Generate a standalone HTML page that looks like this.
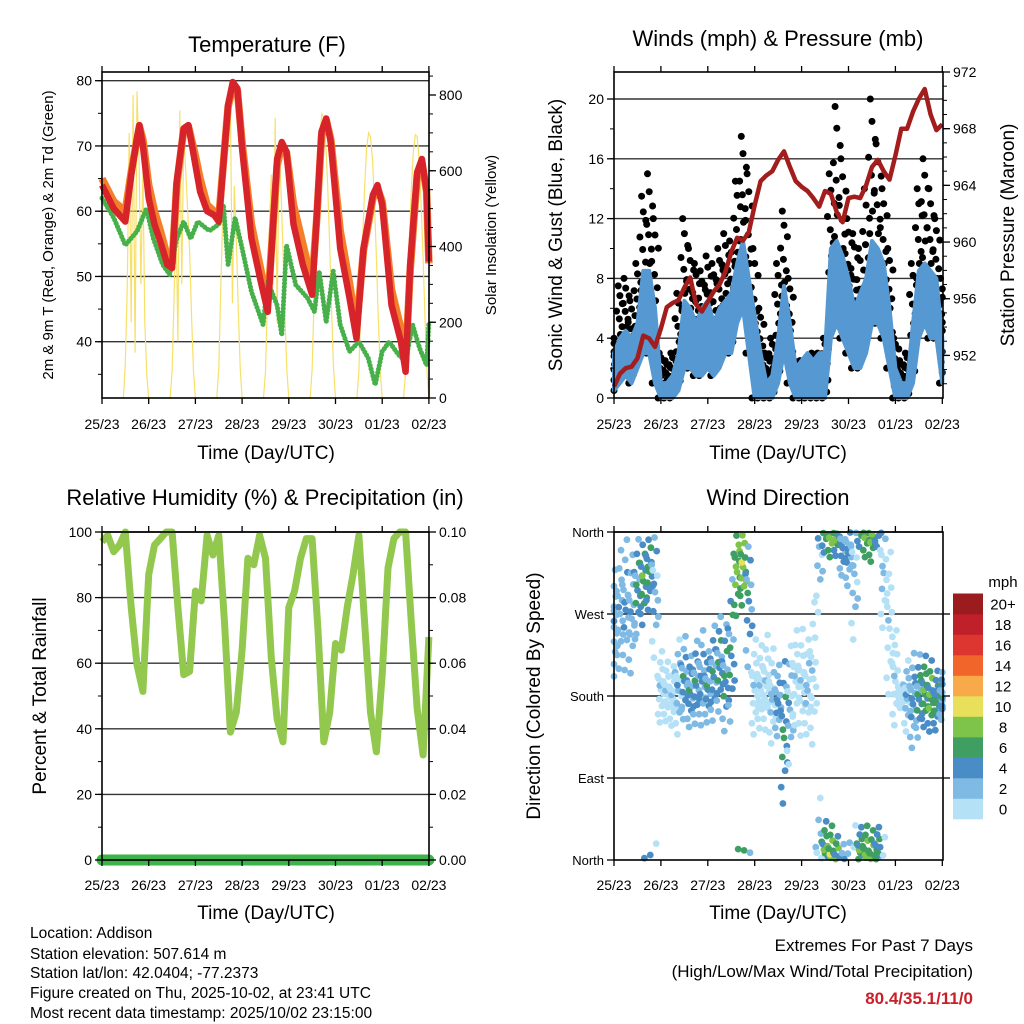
<!DOCTYPE html>
<html><head><meta charset="utf-8"><style>
html,body{margin:0;padding:0;background:#fff;}
svg{display:block;font-family:"Liberation Sans",sans-serif;}
</style></head><body>
<svg id="fig" width="1024" height="1024" viewBox="0 0 1024 1024" xmlns="http://www.w3.org/2000/svg">
<rect width="1024" height="1024" fill="#fff"/>
<g id="layer"></g>
<text x="267" y="52" font-size="22" text-anchor="middle">Temperature (F)</text>
<text x="778" y="46" font-size="22" text-anchor="middle">Winds (mph) &amp; Pressure (mb)</text>
<text x="265" y="505" font-size="22" text-anchor="middle">Relative Humidity (%) &amp; Precipitation (in)</text>
<text x="778" y="505" font-size="22" text-anchor="middle">Wind Direction</text>
<text x="266" y="459" font-size="19" text-anchor="middle">Time (Day/UTC)</text>
<text x="778" y="459" font-size="19" text-anchor="middle">Time (Day/UTC)</text>
<text x="266" y="919" font-size="19" text-anchor="middle">Time (Day/UTC)</text>
<text x="778" y="919" font-size="19" text-anchor="middle">Time (Day/UTC)</text>
<text transform="translate(53,235) rotate(-90)" font-size="15" text-anchor="middle">2m &amp; 9m T (Red, Orange) &amp; 2m Td (Green)</text>
<text transform="translate(496,235) rotate(-90)" font-size="15" text-anchor="middle">Solar Insolation (Yellow)</text>
<text transform="translate(562,235) rotate(-90)" font-size="19" text-anchor="middle">Sonic Wind &amp; Gust (Blue, Black)</text>
<text transform="translate(1014,235) rotate(-90)" font-size="19" text-anchor="middle">Station Pressure (Maroon)</text>
<text transform="translate(46,696) rotate(-90)" font-size="19" text-anchor="middle">Percent &amp; Total Rainfall</text>
<text transform="translate(540,696) rotate(-90)" font-size="19" text-anchor="middle">Direction (Colored By Speed)</text>
<g font-size="15.5">
<text x="30" y="938">Location: Addison</text>
<text x="30" y="959">Station elevation: 507.614 m</text>
<text x="30" y="978">Station lat/lon: 42.0404; -77.2373</text>
<text x="30" y="998">Figure created on Thu, 2025-10-02, at 23:41 UTC</text>
<text x="30" y="1018">Most recent data timestamp: 2025/10/02 23:15:00</text>
</g>
<text x="973" y="951" font-size="17" text-anchor="end">Extremes For Past 7 Days</text>
<text x="973" y="977" font-size="17" text-anchor="end">(High/Low/Max Wind/Total Precipitation)</text>
<text x="973" y="1004" font-size="17" font-weight="bold" fill="#c8202a" text-anchor="end">80.4/35.1/11/0</text>
<text x="1003" y="587" font-size="15" text-anchor="middle">mph</text>
</svg>
<script>
const dayLabels=["25/23","26/23","27/23","28/23","29/23","30/23","01/23","02/23"];
// Temperature
const tempDays=[0,.25,.5,.625,.75,.8,.875,1,1.125,1.25,1.4,1.5,1.6,1.75,1.85,2,2.1,2.25,2.4,2.5,2.7,2.8,2.9,3,3.2,3.4,3.55,3.75,3.85,3.95,4.1,4.3,4.5,4.6,4.7,4.8,4.9,5.1,5.3,5.45,5.6,5.8,5.9,6,6.2,6.4,6.5,6.6,6.75,6.85,6.95,7];
const temp2m=[64,60.4,58.4,65.5,71.2,73.2,70,62,58,55.3,51.8,51.3,64.5,72.7,73.2,67.1,63,60,59.4,58.4,76.3,79.8,78.8,69.6,55.9,49.2,44.6,68,70.6,69.1,58,51.8,47.2,59.4,72.2,74.2,70.6,54.3,46.7,40.5,54.3,62.5,64,61,45.6,40,35.4,51.8,66,68,63,52.3];
const temp9m=[65,61.5,60,66,71,73,71,64,60,57,53,52,64,72.5,73,68.5,65,61,60,59,76,79,78.5,70.5,58,51,46,67,70,69,61,55,49,59,71.5,74,71,57,49,42,54,62,63.5,61.5,48,42,37,51,65.5,67.5,63,52];
const dewDays=[0,.25,.5,.75,.95,1.1,1.3,1.45,1.6,1.75,1.9,2.05,2.3,2.5,2.6,2.7,2.85,3,3.2,3.45,3.55,3.75,3.85,3.95,4.15,4.4,4.55,4.65,4.8,4.95,5.1,5.3,5.5,5.7,5.85,6,6.15,6.35,6.5,6.65,6.8,6.95,7];
const dewPoint=[62,59,54.8,56.9,60.4,55.8,51.8,50.3,55.8,58.4,55.8,58.4,57,58,61,51.8,59,54.3,47.7,42.6,49.2,45.6,41,54.8,48.7,46.7,44.6,50.8,43,50.8,42.6,38.5,40,37.5,33.4,38.5,40,38,37,42.6,39,36.4,43];
// Solar: hourly values for hours 11..23 of each day
const solarHours=[11,12,13,14,15,16,17,18,19,20,21,22,23];
const solarByDay=[
[0,90,300,700,200,800,120,810,640,300,600,200,60],
[0,70,260,500,150,760,300,700,600,500,390,220,70],
[0,80,280,470,640,760,800,780,250,560,420,240,80],
[0,70,260,440,590,300,740,200,660,550,390,220,70],
[0,75,260,450,600,700,750,740,670,560,400,230,75],
[0,70,245,420,560,660,700,690,630,520,370,210,70],
[0,70,240,420,555,650,695,690,625,515,370,210,70]];
// Winds (3-hourly)
const windLo=[.5,1,1.5,1,2,3,3,1,0,0,0,.5,2,2,1.5,1.5,2,1.5,2,3,3,5,6,3,0,0,0,0,1,3,1,0,0,0,0,0,0,4,5,4,3,2,2,3,5,5,4,2,0,0,0,1,4,5,4,4,1];
const windHi=[3,4,4.5,4,5,8.5,8.5,6,1,1,1.5,3,6.5,6,5,6,6.5,5,6,6.5,7,9,10.5,8,5.5,3,1,1.5,4,7.5,5,2,2.5,3,2.5,3,3,10,10.5,9.5,8,6,7,8,10.5,10,9,6,2,1,1,5,8.5,9,8.5,8,4];
const gustHi=[4,7.5,8,6.5,9,13.5,15,12,3,2.5,3,7,12,10,9,8.5,9.5,9,10,11,10.5,14.5,17.5,15,10,6,3,4,9,12.5,8,2.5,2.5,2.5,3,3,4,15,19.5,16,12,11,10,14,20,17,14,10,4,2.5,3,9,14,16,14,12,8];
const pressure=[949.8,950.7,951.1,951.2,951.8,953.4,953.2,952.6,953.9,955.4,955.7,955.9,956.8,957.5,955.6,955.1,955.8,956.5,957,957.9,959.3,960.3,960.1,960.7,962.6,964.3,964.7,965,965.8,966.4,965.3,964.3,963.9,963.6,963.1,962.5,963.6,963.4,962.1,961.4,963.1,963.2,963.1,964,965.3,965.8,965,964.4,966.1,968,968,969.2,970.1,970.8,969,967.9,968.3];
// Relative humidity (3-hourly)
const rh=[97,99,94,96,100,77,59.5,51.4,87,96,98,100,100,77,56.5,57.5,82,79,99,93,99,72,39,45,64,92,90,99,92,61.5,43,36,77,82,92,98,98,70,36,45,66,64,77,87,99,72,45,33,56.5,89,98,100,100,72,46,32,68];
const precip=[0,0,0,0,0,0,0,0,0,0,0,0,0,0,0,0,0,0,0,0,0,0,0,0,0,0,0,0,0,0,0,0,0,0,0,0,0,0,0,0,0,0,0,0,0,0,0,0,0,0,0,0,0,0,0,0,0];
// Wind direction (3-hourly): center deg, spread, speed range
const dirCenter=[260,275,280,270,300,310,320,300,190,185,180,190,200,185,195,200,190,205,215,200,230,320,325,290,190,190,195,180,175,140,170,200,195,190,205,350,370,365,360,345,340,320,370,365,360,370,320,260,200,180,180,175,180,185,180,175,180];
const dirSpread=[45,50,55,50,40,40,35,60,30,25,25,40,35,30,35,40,30,40,40,45,60,40,35,60,40,35,40,40,30,60,50,40,45,40,60,60,25,25,20,25,30,60,20,25,25,20,50,60,40,10,30,40,35,30,30,25,20];
const dirSpdLo=[2,2,2,2,3,4,4,1,0,0,0,1,2,3,3,2,3,3,3,3,3,6,7,2,0,0,0,0,2,4,1,0,0,0,0,1,5,6,5,3,2,1,4,6,6,4,0,0,0,0,1,2,3,5,5,4,3];
const dirSpdHi=[4,4,5,4,7,8,7,5,2,2,2,4,6,6,6,5,6,6,7,7,7,9,10,6,2,2,2,3,5,7,4,2,2,3,2,4,8,10,9,5,5,3,8,9,9,7,3,2,2,1,4,5,7,8,9,7,6];
const speedBins=["0","2","4","6","8","10","12","14","16","18","20+"];
const binColors=["#b5e1f7","#7fbae5","#4a8dc6","#3f9f63","#7ec34a","#e8df5a","#f8a94a","#f2652a","#dd3530","#c0202a","#9b1c1f"];

const NS="http://www.w3.org/2000/svg";
const L=document.getElementById('layer');
function mk(tag,attrs,parent){const e=document.createElementNS(NS,tag);for(const k in attrs)e.setAttribute(k,attrs[k]);(parent||L).appendChild(e);return e;}
const X1=d=>102+d*46.7, X2=d=>614+d*46.9;
const yT=t=>80.7+(80-t)*6.525, yS=s=>398-s*0.37875;
const yW=w=>398-w*14.95, yP=p=>72+(972-p)*14.17;
const yR=r=>860-r*3.28, yPr=p=>860-p*3280;
const yD=g=>860-g*0.9111;
const step=i=>i/8;

function frame(name){
  const g=mk('g',{});
  
  
  return g;
}
function hline(g,x0,x1,y,name,col,w){
  const l=mk('line',{x1:x0,x2:x1,y1:y,y2:y,stroke:col||'#333',"stroke-width":w||1.4},g);
  
  
}
function border(g,x0,y0,x1,y1,name){
  const r=mk('rect',{x:x0,y:y0,width:x1-x0,height:y1-y0,fill:'none',stroke:'#000',"stroke-width":1.6},g);
  
  
}
function xAxis(g,X,y0,y1,labY,name){
  for(let i=0;i<dayLabels.length;i++){
    const x=X(i);
    mk('line',{x1:x,x2:x,y1:y1,y2:y1+6,stroke:'#000',"stroke-width":1.3},g);
    mk('line',{x1:x,x2:x,y1:y0,y2:y0-6,stroke:'#000',"stroke-width":1.3},g);
    const t=mk('text',{x:x,y:labY,"font-size":14,"text-anchor":"middle"},g);
    t.textContent=dayLabels[i];
    
    
  }
}
function yTicks(g,x,side,vals,Y,labs,minor,name,fs){
  minor.forEach(v=>{const y=Y(v);mk('line',{x1:x,x2:x+side*4,y1:y,y2:y,stroke:'#000',"stroke-width":1},g);});
  vals.forEach((v,i)=>{const y=Y(v);mk('line',{x1:x,x2:x+side*7,y1:y,y2:y,stroke:'#000',"stroke-width":1.3},g);
    const t=mk('text',{x:x+side*10,y:y+5,"font-size":fs||14,"text-anchor":side<0?"end":"start"},g);
    t.textContent=labs?labs[i]:v;
    
    });
}
function range(a,b,s){const r=[];for(let v=a;v<=b+1e-9;v+=s)r.push(+v.toFixed(4));return r;}
function pts(xs,ys,X,Y){return xs.map((d,i)=>X(d).toFixed(1)+','+Y(ys[i]).toFixed(1)).join(' ');}

// Panel 1
const g1=frame('temperature-panel');
range(40,80,10).forEach(v=>hline(g1,102,429,yT(v),'temp-gridline'));
const solT=[],solV=[];
for(let d=0;d<7;d++){for(let h=0;h<solarHours.length;h++){solT.push(d+solarHours[h]/24);solV.push(solarByDay[d][h]);} solT.push(d+1);solV.push(0);}
const sol=mk('polyline',{points:pts(solT,solV,X1,yS),fill:'none',stroke:'#f7e06a',"stroke-width":1.2},g1);


const o=mk('polyline',{points:pts(tempDays,temp9m,X1,yT),fill:'none',stroke:'#f47f2a',"stroke-width":7.5,"stroke-linejoin":"round"},g1);


const dw=mk('polyline',{points:pts(dewDays,dewPoint,X1,yT),fill:'none',stroke:'#48b04a',"stroke-width":5,"stroke-linecap":"round","stroke-dasharray":"0.1 3.5","stroke-linejoin":"round"},g1);


const rd=mk('polyline',{points:pts(tempDays,temp2m,X1,yT),fill:'none',stroke:'#d7242a',"stroke-width":6.5,"stroke-linejoin":"round"},g1);


border(g1,102,72,429,398,'temp-plot-frame');
xAxis(g1,X1,72,398,429,'temp-x');
yTicks(g1,102,-1,range(40,80,10),yT,null,range(35,80,5),'temp-y');
yTicks(g1,429,1,range(0,800,200),yS,null,range(0,850,50),'solar-y');

// Panel 2
const g2=frame('winds-panel');
range(4,20,4).forEach(v=>hline(g2,614,943,yW(v),'wind-gridline'));
const gf=[0,.1,.2,.3,.4,.5,.58,.66,.74,.82,.9,1], gx=[-.05,.03,-.02,.05,-.04,.01,.04,-.01,-.06,.06,.0,-.03];
for(let i=0;i<gustHi.length;i++){
  for(let k=0;k<gf.length;k++){
    const d=Math.min(7,Math.max(0,step(i)+gx[k]*1.2));
    const v=windLo[i]+(gustHi[i]-windLo[i])*gf[k];
    const c=mk('circle',{cx:X2(d).toFixed(1),cy:yW(v).toFixed(1),r:3.5,fill:'#000'},g2);
    
    
  }
}
const days57=windHi.map((_,i)=>step(i));
const band=mk('polygon',{points:pts(days57,windHi,X2,yW)+' '+pts(days57.slice().reverse(),windLo.slice().reverse(),X2,yW),fill:'#5598d2',stroke:'#5598d2',"stroke-width":4,"stroke-linejoin":"round"},g2);


const pr=mk('polyline',{points:pts(days57,pressure,X2,yP),fill:'none',stroke:'#a31d1d',"stroke-width":4.5,"stroke-linejoin":"round"},g2);


border(g2,614,72,943,398,'wind-plot-frame');
xAxis(g2,X2,72,398,429,'wind-x');
yTicks(g2,614,-1,range(0,20,4),yW,null,range(0,21,2),'wind-y');
yTicks(g2,943,1,range(952,972,4),yP,null,range(950,972,1),'pressure-y');

// Panel 3
const g3=frame('humidity-panel');
range(20,100,20).forEach(v=>hline(g3,102,429,yR(v),'rh-gridline'));
const rhl=mk('polyline',{points:pts(days57,rh,X1,yR),fill:'none',stroke:'#92c84d',"stroke-width":7,"stroke-linejoin":"round"},g3);


const pl=mk('polyline',{points:pts(days57,precip,X1,yPr),fill:'none',stroke:'#3cb44a',"stroke-width":11,"stroke-linecap":"round"},g3);


border(g3,102,532,429,860,'rh-plot-frame');
xAxis(g3,X1,532,860,890,'rh-x');
yTicks(g3,102,-1,range(0,100,20),yR,null,range(0,100,10),'rh-y');
yTicks(g3,429,1,[0,.02,.04,.06,.08,.1],yPr,["0.00","0.02","0.04","0.06","0.08","0.10"],range(0,.1,.01),'precip-y');

// Panel 4
const g4=frame('direction-panel');
[90,180,270,360].forEach(v=>hline(g4,614,943,yD(v),'dir-gridline','#222'));
const dg=[-1,-.7,-.45,-.25,-.1,.05,.2,.4,.65,.9,-.55,.3,1.3,-1.3], dh=[.1,.5,.9,.3,.7,1,.2,.6,.8,.4,.55,.15,.05,0], dx=[-.05,.02,-.03,.05,0,-.02,.04,-.06,.03,-.01,.06,-.04,.02,-.02];
for(let i=0;i<dirCenter.length;i++){
  for(let k=0;k<dg.length;k++){
    let g=dirCenter[i]+dirSpread[i]*dg[k];
    g=((g%360)+360)%360;
    const s=dirSpdLo[i]+(dirSpdHi[i]-dirSpdLo[i])*dh[k];
    const b=Math.min(10,Math.floor(s/2));
    const d=Math.min(7,Math.max(0,step(i)+dx[k]*1.2));
    const c=mk('circle',{cx:X2(d).toFixed(1),cy:yD(g).toFixed(1),r:3.4,fill:binColors[b]},g4);
    
    
  }
}
border(g4,614,532,943,860,'dir-plot-frame');
xAxis(g4,X2,532,860,890,'dir-x');
yTicks(g4,614,-1,[0,90,180,270,360],yD,["North","East","South","West","North"],[],'dir-y',13);
[90,180,270].forEach(v=>mk('line',{x1:943,x2:950,y1:yD(v),y2:yD(v),stroke:'#000',"stroke-width":1.3},g4));
const cb=frame('speed-colorbar');
const bh=20.5;
for(let i=0;i<speedBins.length;i++){
  const y=819-(i+1)*bh;
  const r=mk('rect',{x:953,y:y.toFixed(1),width:30,height:bh+0.3,fill:binColors[i]},cb);
  
  
  const t=mk('text',{x:1003,y:(y+bh/2+5.5).toFixed(1),"font-size":15,"text-anchor":"middle"},cb);
  t.textContent=speedBins[i];
  
  
}
</script>
</body></html>
